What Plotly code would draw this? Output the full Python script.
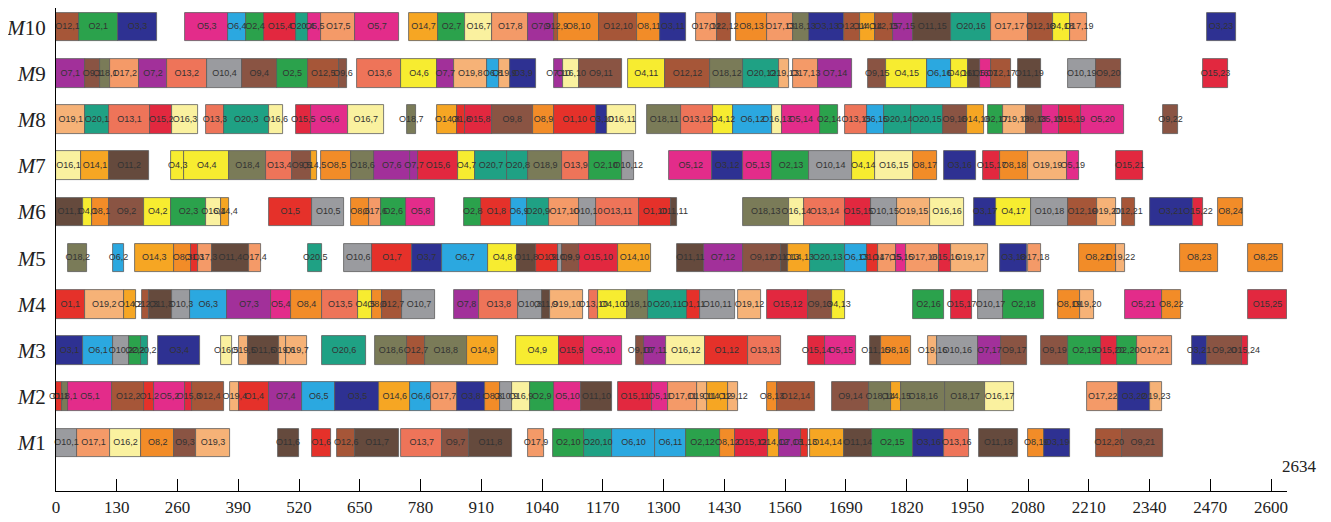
import plotly.graph_objects as go

# ---- data: (operation label, start, end) per machine ----
M1 = [("O10,1",0,45),("O17,1",45,116),("O16,2",116,182),("O8,2",182,253),("O9,3",253,299),("O19,3",299,373),
      ("O11,6",474,519),("O1,6",547,588),
      ("O12,6",602,640),("O11,7",640,734),("O13,7",739,826),("O9,7",826,884),("O11,8",884,975),
      ("O17,9",1010,1044),
      ("O2,10",1063,1129),("O20,10",1129,1189),("O6,10",1189,1282),("O6,11",1282,1347),("O2,12",1347,1420),("O8,12",1420,1453),
      ("O15,12",1453,1524),("O14,12",1524,1548),("O7,13",1548,1595),("O1,13",1595,1609),
      ("O14,14",1614,1686),("O11,14",1686,1745),("O2,15",1745,1834),("O3,16",1834,1901),("O13,16",1901,1954),
      ("O11,18",1975,2058),("O8,19",2080,2115),("O3,19",2115,2170),
      ("O12,20",2225,2282),("O9,21",2282,2369)]
M2 = [("O1,1",0,12),("O18,1",12,26),("O5,1",26,120),("O12,2",120,189),("O1,2",189,210),("O5,2",210,276),("O15,3",276,292),("O12,4",292,360),
      ("O19,4",373,392),("O1,4",392,456),("O7,4",456,527),("O6,5",527,598),("O3,5",598,692),("O14,6",692,758),("O6,6",758,803),
      ("O17,7",803,858),("O3,8",858,918),("O8,8",918,950),("O10,9",950,976),("O16,9",976,1014),("O2,9",1014,1065),("O5,10",1065,1124),("O11,10",1124,1189),
      ("O15,11",1202,1275),("O5,11",1275,1309),("O17,11",1309,1371),("O19,11",1371,1392),("O14,12",1392,1437),("O19,12",1437,1460),
      ("O8,13",1522,1542),("O12,14",1542,1623),
      ("O9,14",1660,1740),("O18,14",1740,1787),("O14,15",1787,1809),("O18,16",1809,1902),("O18,17",1902,1988),("O16,17",1988,2050),
      ("O17,22",2207,2273),("O3,22",2273,2340),("O19,23",2340,2366)]
M3 = [("O3,1",0,58),("O6,1",58,122),("O10,2",122,156),("O2,2",156,182),("O20,2",182,196),
      ("O3,4",219,308),("O16,5",352,377),
      ("O19,5",392,410),("O11,5",410,477),("O19,6",477,493),("O19,7",493,536),
      ("O20,6",570,663),
      ("O18,6",682,752),("O12,7",752,789),("O18,8",789,879),("O14,9",879,946),
      ("O4,9",984,1076),("O15,9",1076,1129),("O5,10",1129,1212),
      ("O9,10",1241,1258),("O7,11",1258,1306),("O16,12",1306,1389),("O1,12",1389,1481),("O13,13",1481,1552),
      ("O15,14",1609,1646),("O5,15",1646,1712),
      ("O11,15",1742,1766),("O8,16",1766,1830),
      ("O19,16",1866,1885),("O10,16",1885,1972),("O7,17",1972,2023),("O9,17",2023,2078),
      ("O9,19",2108,2165),("O2,19",2165,2237),("O15,20",2237,2271),("O2,20",2271,2313),("O17,21",2313,2388),
      ("O3,21",2430,2462),("O9,20",2462,2538),("O15,24",2538,2551)]
M4 = [("O1,1",0,61),("O19,2",61,146),("O14,2",146,171),
      ("O12,3",184,200),("O11,3",200,249),("O10,3",249,286),("O6,3",286,366),("O7,3",366,460),("O5,4",460,502),("O8,4",502,570),
      ("O13,5",570,646),("O4,5",646,677),("O8,6",677,697),("O12,7",697,741),("O10,7",741,812),
      ("O7,8",851,906),("O13,8",906,989),("O10,8",989,1039),("O11,9",1039,1057),("O19,10",1057,1127),
      ("O13,10",1140,1159),("O4,10",1159,1221),("O18,10",1221,1267),("O20,11",1267,1350),("O1,11",1350,1377),("O10,11",1377,1453),
      ("O19,12",1460,1508),
      ("O15,12",1522,1609),("O9,13",1609,1660),("O4,13",1660,1689),
      ("O2,16",1833,1901),
      ("O15,17",1914,1961),("O10,17",1972,2027),("O2,18",2027,2113),
      ("O8,19",2145,2190),("O19,20",2190,2221),
      ("O5,21",2287,2366),("O8,22",2366,2407),
      ("O15,25",2551,2634)]
M5 = [("O18,2",26,67),("O6,2",122,146),
      ("O14,3",168,253),("O8,3",253,288),("O1,3",288,304),("O17,3",304,334),("O11,4",334,412),("O17,4",412,438),
      ("O20,5",539,570),
      ("O10,6",617,677),("O1,7",677,761),("O3,7",761,825),("O6,7",825,925),("O4,8",925,986),("O11,8",986,1026),("O1,9",1026,1074),
      ("O10,9",1074,1083),("O9,9",1083,1118),("O15,10",1118,1202),("O14,10",1202,1274),
      ("O11,11",1329,1386),("O7,12",1386,1469),("O9,12",1469,1552),("O11,13",1552,1567),("O14,13",1567,1614),("O20,13",1614,1689),
      ("O6,13",1689,1735),("O1,14",1735,1758),("O17,15",1758,1798),("O5,15",1798,1819),("O17,16",1819,1890),("O15,16",1890,1916),("O19,17",1916,1995),
      ("O3,18",2020,2078),("O17,18",2080,2108),
      ("O8,21",2189,2268),("O19,22",2268,2287),
      ("O8,23",2406,2487),
      ("O8,25",2551,2625)]
M6 = [("O11,1",0,58),("O4,1",58,77),("O8,1",77,113),("O9,2",113,189),("O4,2",189,247),("O2,3",247,320),("O16,4",320,354),("O14,4",354,371),
      ("O1,5",455,548),("O10,5",548,617),
      ("O8,6",632,669),("O17,6",669,695),("O2,6",695,748),("O5,8",748,812),
      ("O2,8",873,910),("O1,8",910,974),("O6,9",974,1007),("O20,9",1007,1055),("O17,10",1055,1120),("O10,10",1120,1156),("O13,11",1156,1248),
      ("O1,10",1248,1315),("O11,11",1315,1329),
      ("O18,13",1469,1568),("O16,14",1568,1600),("O13,14",1600,1689),("O15,15",1689,1744),("O10,15",1744,1800),("O19,15",1800,1870),("O16,16",1870,1943),
      ("O3,17",1965,2011),("O4,17",2011,2087),("O10,18",2087,2165),("O12,19",2165,2227),("O19,20",2227,2268),
      ("O12,21",2280,2308),
      ("O3,21",2340,2432),("O15,22",2432,2455),
      ("O8,24",2487,2539)]
M7 = [("O16,1",0,54),("O14,1",54,113),("O11,2",113,200),
      ("O4,3",247,274),("O4,4",274,371),("O18,4",371,449),("O13,4",449,506),("O9,5",506,545),("O14,5",545,559),
      ("O8,5",568,632),("O18,6",632,680),("O7,6",680,757),("O7,7",757,775),("O15,6",775,860),("O4,7",860,897),("O20,7",897,965),
      ("O20,8",965,1011),("O18,9",1011,1083),("O13,9",1083,1140),("O2,10",1140,1212),("O10,12",1212,1237),
      ("O5,12",1312,1404),("O3,12",1404,1469),("O5,13",1469,1533),("O2,13",1533,1612),("O10,14",1612,1703),("O4,14",1703,1752),
      ("O16,15",1752,1833),("O8,17",1833,1885),
      ("O3,16",1900,1968),
      ("O15,17",1984,2020),("O8,18",2020,2080),("O19,19",2080,2163),("O5,19",2163,2188),
      ("O15,21",2269,2326)]
M8 = [("O19,1",0,63),("O20,1",63,113),("O13,1",113,202),("O15,2",202,248),("O16,3",248,304),
      ("O13,3",322,359),("O20,3",359,455),("O16,6",455,485),
      ("O15,5",513,545),("O5,6",545,625),("O16,7",625,701),
      ("O18,7",750,770),
      ("O14,8",816,858),("O1,8",858,875),("O15,8",875,932),("O9,8",932,1021),("O8,9",1021,1065),("O1,10",1065,1155),("O3,10",1155,1180),("O16,11",1180,1240),
      ("O18,11",1265,1338),("O13,12",1338,1405),("O4,12",1405,1449),("O6,12",1449,1533),("O16,13",1533,1553),("O5,14",1553,1634),("O2,14",1634,1674),
      ("O13,15",1689,1736),("O6,15",1736,1772),("O20,14",1772,1830),("O20,15",1830,1897),("O9,16",1897,1949),("O14,16",1949,1986),
      ("O2,17",1995,2027),("O19,18",2027,2076),("O9,18",2076,2110),("O5,19",2110,2147),("O15,19",2147,2193),("O5,20",2193,2285),
      ("O9,22",2369,2401)]
M9 = [("O7,1",0,61),("O9,1",61,95),("O18,1",95,116),("O17,2",116,178),("O7,2",178,237),("O13,2",237,323),("O10,4",323,398),("O9,4",398,472),
      ("O2,5",472,539),("O12,5",539,605),("O9,6",605,623),
      ("O13,6",645,739),("O4,6",739,815),("O7,7",815,851),("O19,8",851,922),("O6,8",922,947),("O19,9",947,972),("O3,9",972,1027),
      ("O7,10",1065,1085),("O16,10",1085,1120),("O9,11",1120,1212),
      ("O4,11",1223,1303),("O12,12",1303,1400),("O18,12",1400,1471),("O20,12",1471,1548),("O19,13",1548,1568),
      ("O17,13",1577,1631),("O7,14",1631,1703),
      ("O9,15",1738,1777),("O4,15",1777,1864),("O6,16",1864,1916),("O4,16",1916,1952),("O11,16",1952,1977),("O5,17",1977,2000),("O12,17",2000,2044),
      ("O11,19",2058,2107),("O10,19",2165,2225),("O9,20",2225,2278),("O15,23",2455,2507)]
M10 = [("O12,1",0,49),("O2,1",49,132),("O3,3",132,217),
       ("O5,3",277,368),("O6,4",368,406),("O2,4",406,446),("O15,4",446,513),("O20,4",513,539),("O5,5",539,568),("O17,5",568,640),("O5,7",640,734),
       ("O14,7",756,817),("O2,7",817,876),("O16,7",876,933),("O17,8",933,1011),("O7,9",1011,1065),("O12,9",1065,1074),("O8,10",1074,1161),
       ("O12,10",1161,1244),("O8,11",1244,1293),("O3,11",1293,1347),
       ("O17,12",1369,1414),("O12,12",1414,1444),
       ("O8,13",1455,1521),("O17,13",1521,1577),("O18,13",1577,1612),("O3,13",1612,1687),("O12,14",1687,1720),("O14,14",1720,1752),
       ("O12,15",1752,1790),("O7,15",1790,1834),("O11,15",1834,1916),("O20,16",1916,2000),("O17,17",2000,2080),("O12,18",2080,2133),
       ("O4,18",2133,2170),("O17,19",2170,2207),
       ("O3,23",2462,2524)]

machines = [M1, M2, M3, M4, M5, M6, M7, M8, M9, M10]
machine_labels = ["<i>M</i>1", "<i>M</i>2", "<i>M</i>3", "<i>M</i>4", "<i>M</i>5",
                  "<i>M</i>6", "<i>M</i>7", "<i>M</i>8", "<i>M</i>9", "<i>M</i>10"]
x_ticks = [0, 130, 260, 390, 520, 650, 780, 910, 1040, 1170, 1300, 1430, 1560,
           1690, 1820, 1950, 2080, 2210, 2340, 2470, 2600]
makespan = 2634

job_colors = {
    1: "#E5312A", 2: "#2BA24C", 3: "#2E3192", 4: "#F7EC30", 5: "#E32C8A",
    6: "#2BA8E0", 7: "#A2309A", 8: "#F28C28", 9: "#8A5443", 10: "#9A9B9F",
    11: "#654A3D", 12: "#A65638", 13: "#EE7459", 14: "#F6A623", 15: "#E2283F",
    16: "#FAF19F", 17: "#F49A68", 18: "#7A7B58", 19: "#F6B277", 20: "#1FA184",
}

def job_of(label):
    return int(label[1:].split(",")[0])

fig = go.Figure()
bx, bbase, by, bcol = [], [], [], []
tx, ty, tt = [], [], []
for mi, ops in enumerate(machines, start=1):
    for lab, s, e in ops:
        bx.append(e - s)
        bbase.append(s)
        by.append(mi)
        bcol.append(job_colors[job_of(lab)])
        tx.append((s + e) / 2)
        ty.append(mi)
        tt.append(lab)

fig.add_trace(go.Bar(
    x=bx, base=bbase, y=by, orientation="h", width=0.62,
    marker=dict(color=bcol, line=dict(color="#5a5a5a", width=0.8)),
    hoverinfo="skip", showlegend=False))
fig.add_trace(go.Scatter(
    x=tx, y=ty, mode="text", text=tt, textposition="middle center",
    textfont=dict(family="Liberation Sans", size=9, color="#333333"),
    hoverinfo="skip", showlegend=False, cliponaxis=False))

fig.add_annotation(x=makespan, y=0.5, xref="x", yref="y", text=str(makespan),
                   showarrow=False, xanchor="center", yanchor="middle", xshift=12,
                   font=dict(family="Liberation Serif", size=17, color="#222222"))

# the page body adds an 8px offset, so the figure is 8px smaller and margins shifted
fig.update_layout(
    width=1323, height=514,
    margin=dict(l=48, r=44, t=0, b=31, autoexpand=False),
    plot_bgcolor="white", paper_bgcolor="white",
    bargap=0,
    xaxis=dict(range=[0, makespan], tickvals=x_ticks, ticktext=[str(v) for v in x_ticks],
               automargin=False,
               showgrid=False, zeroline=False, showline=True, linecolor="black", linewidth=1.2,
               ticks="inside", ticklen=12, tickwidth=1, tickcolor="black",
               tickfont=dict(family="Liberation Serif", size=17, color="#222222")),
    yaxis=dict(range=[-0.04, 10.415], tickvals=list(range(1, 11)), ticktext=machine_labels,
               automargin=False,
               showgrid=False, zeroline=False, showline=True, linecolor="black", linewidth=1.2,
               ticks="", ticklabelstandoff=5,
               tickfont=dict(family="Liberation Serif", size=21, color="#222222")),
)

fig.write_html("out.html")
